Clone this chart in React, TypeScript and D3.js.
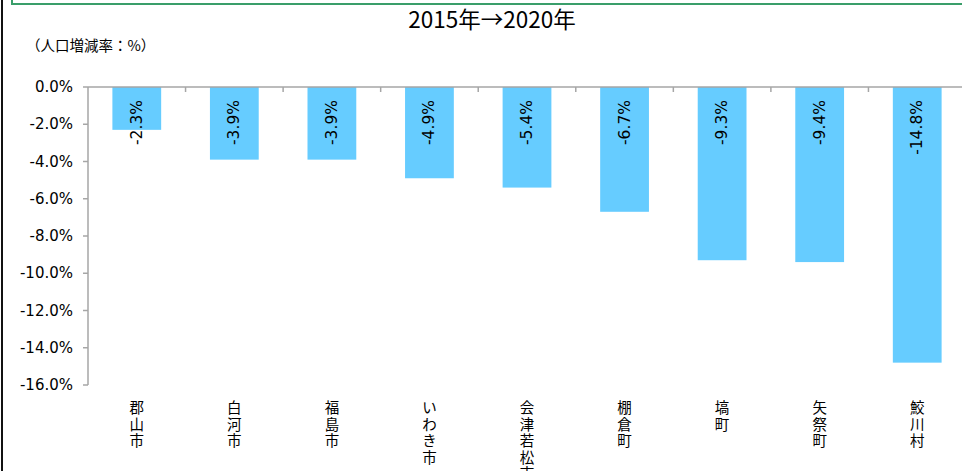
import React from "react";
import * as d3 from "d3";

const categories = ["郡山市", "白河市", "福島市", "いわき市", "会津若松市", "棚倉町", "塙町", "矢祭町", "鮫川村"];
const values = [-2.3, -3.9, -3.9, -4.9, -5.4, -6.7, -9.3, -9.4, -14.8];
const yTicks = [0, -2, -4, -6, -8, -10, -12, -14, -16];
const title = "2015年→2020年";
const unitLabel = "（人口増減率：%）";

const W = 962;
const H = 471;

export default function App() {
  const x = d3.scaleBand<string>().domain(categories).range([88, 966]).paddingInner(0.5).paddingOuter(0.25);
  const y = d3.scaleLinear().domain([-16, 0]).range([385, 87]);
  const step = x.step();
  const x0 = 88;
  const axisColor = "#a6a6a6";
  const numFont = "'DejaVu Sans', Verdana, sans-serif";
  const jpFont = "'Noto Sans CJK JP', sans-serif";

  return (
    <div style={{ position: "absolute", left: 0, top: 0 }}>
      <svg width={W} height={H} style={{ display: "block", background: "#fff" }}>
        <rect x={0} y={0} width={W} height={H} fill="#fff" />
        <line x1={2} y1={0} x2={2} y2={H} stroke="#111" strokeWidth={2} />
        <rect x={12} y={-10} width={W} height={14} fill="none" stroke="#3a9e6a" strokeWidth={2} />
        <text x={492} y={28} textAnchor="middle" fontFamily={jpFont} fontSize={22.5} fill="#000">{title}</text>
        <text x={26} y={51} fontFamily={jpFont} fontSize={14.5} fill="#000">{unitLabel}</text>
        {values.map((v, i) => (
          <rect key={i} x={x(categories[i])} y={y(0)} width={x.bandwidth()} height={y(v) - y(0)} fill="#66ccff" />
        ))}
        <line x1={x0} y1={y(0)} x2={x0} y2={y(-16)} stroke={axisColor} strokeWidth={1.5} />
        {yTicks.map((t) => (
          <g key={t}>
            <line x1={x0 - 5} x2={x0} y1={y(t)} y2={y(t)} stroke={axisColor} strokeWidth={1.5} />
            <text x={73} y={y(t) + 5} textAnchor="end" fontFamily={numFont} fontSize={15} fill="#000">
              {t.toFixed(1) + "%"}
            </text>
          </g>
        ))}
        <line x1={x0} x2={W} y1={y(0)} y2={y(0)} stroke={axisColor} strokeWidth={1.5} />
        {categories.map((c, i) => (
          <line key={c} x1={x0 + step * (i + 1)} x2={x0 + step * (i + 1)} y1={y(0)} y2={y(0) + 5} stroke={axisColor} strokeWidth={1.5} />
        ))}
        {values.map((v, i) => {
          const cx = (x(categories[i]) as number) + x.bandwidth() / 2;
          return (
            <text key={i} transform={`translate(${cx + 5},${y(0) + 13}) rotate(-90)`} textAnchor="end"
              fontFamily={numFont} fontSize={15.5} fill="#000">
              {v.toFixed(1) + "%"}
            </text>
          );
        })}
        {categories.map((c) => {
          const cx = (x(c) as number) + x.bandwidth() / 2;
          return (
            <g key={c}>
              {Array.from(c).map((ch, j) => (
                <text key={j} x={cx} y={413 + j * 16.5} textAnchor="middle" fontFamily={jpFont} fontSize={14.5} fill="#000">{ch}</text>
              ))}
            </g>
          );
        })}
      </svg>
    </div>
  );
}
